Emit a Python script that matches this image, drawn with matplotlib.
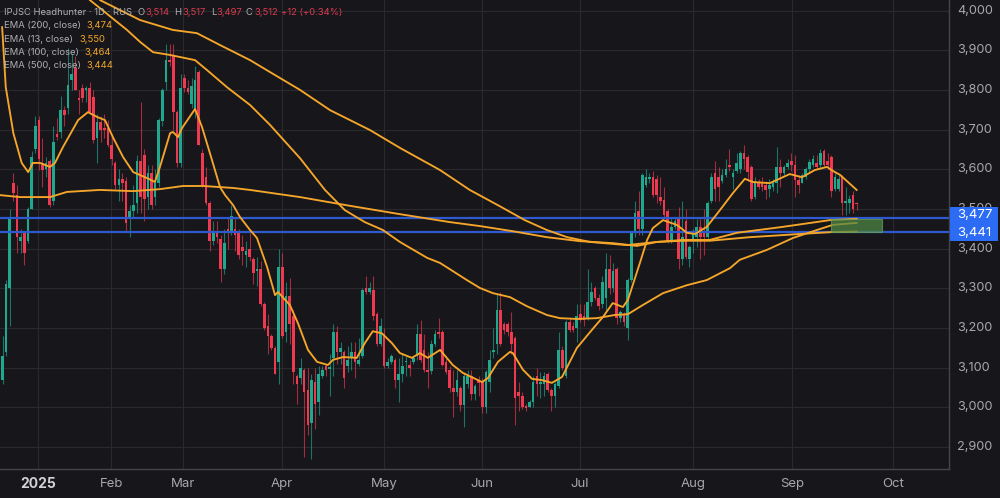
import numpy as np
import matplotlib
matplotlib.use("Agg")
import matplotlib.pyplot as plt
from matplotlib.patches import Rectangle

plt.rcParams['font.family'] = ['Inter', 'DejaVu Sans']

opens = [3480,3070,3140,3300,3565,3535,3420,3440,3420,3500,3650,3725,3615,3600,3620,3520,3690,3695,3750,3755,
 3825,3855,3780,3805,3800,3805,3782,3680,3720,3705,3705,3660,3615,3560,3575,3570,3480,3495,3515,3620,
 3635,3530,3590,3530,3565,3722,3820,3875,3885,3745,3615,3830,3805,3765,3750,3845,3640,3580,3515,3420,
 3445,3425,3350,3450,3440,3450,3445,3405,3385,3400,3375,3345,3350,3260,3205,3180,3150,3115,3355,3190,
 3280,3230,3080,3075,3095,3045,2960,3065,3015,3080,3105,3098,3125,3190,3140,3140,3105,3125,3140,3110,
 3130,3300,3290,3295,3235,3160,3185,3105,3115,3120,3070,3085,3115,3108,3115,3130,3185,3145,3095,3092,
 3160,3190,3190,3115,3095,3050,3040,3050,3005,3060,3080,3035,3070,3065,3000,3065,3140,3160,3245,3210,
 3210,3190,3175,3040,3030,3003,3002,3015,3080,3060,3060,3085,3045,3030,3055,3145,3080,3215,3205,3200,
 3235,3230,3225,3265,3300,3275,3260,3275,3350,3300,3350,3225,3235,3200,3320,3440,3495,3450,3560,3575,
 3580,3575,3530,3522,3495,3420,3455,3475,3375,3470,3375,3420,3430,3455,3445,3430,3520,3590,3580,3570,
 3585,3612,3580,3595,3600,3640,3630,3605,3530,3565,3565,3560,3550,3555,3565,3605,3590,3605,3620,3610,
 3572,3565,3580,3600,3612,3615,3610,3645,3620,3630,3550,3550,3580,3515,3515,3535,3514]
highs = [3500,3180,3320,3500,3590,3560,3450,3445,3505,3645,3735,3735,3680,3630,3625,3710,3730,3785,3760,3905,
 3890,3885,3800,3815,3810,3820,3800,3740,3735,3740,3725,3690,3620,3600,3590,3580,3510,3560,3635,3770,
 3650,3610,3610,3600,3730,3805,3915,3915,3915,3750,3840,3840,3825,3830,3860,3850,3650,3605,3520,3470,
 3470,3435,3450,3480,3510,3480,3450,3435,3420,3440,3380,3380,3370,3265,3235,3185,3155,3400,3390,3315,
 3325,3245,3085,3125,3100,3100,3085,3100,3105,3105,3110,3135,3210,3205,3165,3145,3155,3165,3165,3175,
 3300,3330,3315,3330,3240,3225,3200,3125,3135,3125,3125,3135,3130,3120,3130,3210,3220,3185,3140,3170,
 3195,3225,3195,3125,3105,3095,3095,3055,3090,3095,3095,3060,3080,3075,3095,3145,3200,3285,3290,3215,
 3215,3240,3180,3065,3040,3010,3020,3080,3100,3090,3090,3090,3050,3065,3190,3155,3220,3225,3215,3260,
 3260,3260,3350,3315,3305,3285,3330,3390,3385,3365,3355,3245,3240,3325,3445,3520,3545,3590,3600,3590,
 3595,3585,3580,3555,3500,3480,3480,3505,3520,3500,3410,3450,3475,3475,3500,3520,3590,3620,3605,3600,
 3625,3650,3600,3640,3645,3660,3635,3610,3580,3575,3580,3570,3575,3575,3655,3625,3610,3625,3640,3635,
 3585,3590,3605,3625,3635,3635,3650,3652,3640,3635,3590,3585,3585,3555,3535,3545,3517]
lows = [3060,3060,3130,3205,3520,3390,3390,3360,3415,3500,3640,3597,3555,3580,3505,3510,3675,3680,3710,3740,
 3800,3800,3740,3770,3770,3740,3665,3615,3670,3680,3655,3610,3550,3520,3520,3445,3430,3480,3490,3490,
 3470,3500,3500,3510,3555,3710,3800,3860,3700,3605,3605,3795,3790,3755,3730,3660,3555,3510,3395,3410,
 3415,3315,3335,3400,3435,3395,3375,3360,3355,3370,3310,3305,3255,3195,3135,3145,3085,3060,3175,3165,
 3160,3060,3010,3060,2875,2930,2870,2945,2980,3075,3080,3030,3080,3110,3110,3050,3090,3095,3075,3105,
 3125,3285,3285,3220,3155,3155,3100,3100,3110,3050,3015,3065,3080,3080,3110,3120,3115,3090,3050,3085,
 3155,3175,3105,3085,3040,2975,3030,2990,2950,3050,3020,3020,3030,2985,2985,3040,3125,3135,3155,3185,
 3180,3135,2955,2990,2995,2990,3000,3000,3030,3025,3030,3040,2990,3000,3050,3095,3075,3190,3190,3165,
 3215,3205,3220,3255,3270,3245,3250,3240,3285,3290,3210,3215,3205,3170,3315,3430,3435,3435,3555,3565,
 3530,3515,3510,3480,3415,3415,3450,3350,3360,3375,3355,3390,3405,3375,3385,3425,3515,3520,3520,3565,
 3580,3595,3550,3590,3590,3600,3570,3520,3525,3550,3545,3525,3530,3545,3540,3555,3585,3600,3595,3530,
 3540,3565,3575,3590,3605,3600,3600,3605,3600,3530,3545,3545,3485,3485,3490,3490,3497]
closes = [3070,3130,3310,3480,3540,3430,3430,3390,3500,3632,3708,3625,3597,3615,3510,3670,3682,3750,3738,3812,
 3840,3800,3775,3780,3805,3745,3675,3720,3700,3700,3660,3625,3560,3575,3565,3465,3495,3510,3620,3530,
 3525,3590,3510,3565,3725,3800,3875,3870,3745,3615,3805,3805,3795,3810,3825,3660,3560,3515,3420,3440,
 3430,3350,3415,3445,3482,3435,3385,3395,3395,3380,3340,3350,3260,3200,3180,3150,3085,3355,3180,3280,
 3210,3090,3060,3100,3040,2955,3070,3010,3085,3095,3095,3102,3190,3140,3150,3075,3120,3140,3115,3120,
 3295,3290,3300,3230,3160,3205,3105,3115,3130,3070,3085,3105,3118,3100,3125,3185,3120,3095,3090,3160,
 3185,3185,3108,3090,3050,3040,3070,3005,3080,3080,3035,3055,3062,3000,3090,3120,3145,3245,3160,3195,
 3190,3160,3025,3030,3000,2998,3015,3065,3060,3062,3080,3045,3030,3060,3145,3100,3215,3195,3195,3230,
 3220,3220,3265,3290,3275,3255,3315,3350,3300,3345,3225,3240,3215,3320,3440,3490,3450,3585,3580,3580,
 3535,3535,3520,3485,3420,3455,3470,3375,3430,3380,3405,3440,3455,3430,3430,3515,3580,3550,3555,3585,
 3600,3605,3590,3615,3640,3625,3592,3525,3565,3555,3555,3548,3560,3565,3605,3590,3605,3615,3610,3572,
 3560,3585,3600,3618,3625,3605,3642,3610,3610,3545,3580,3575,3515,3520,3525,3500,3512]

ema13_x = [-0.1,0.9,3,5.3,7.1,8.4,10.4,13.1,14.5,16.7,20.9,23.6,26.1,28.3,30.5,33.3,36.1,39.9,42.1,43.5,46.3,47.1,48.5,49.6,53.2,55.1,57.3,60.1,61.5,63.7,65.6,68.4,70.3,73.1,75.3,76.1,79.4,81.6,84.4,86.9,89.9,91.3,94.1,97.9,100.1,102.3,104.8,107.6,109.8,113.1,115.3,117.5,120.9,124.4,127.2,132.5,134.1,136.9,140.2,141,143.8,146.3,149,151.8,154.6,158.7,162.8,165.9,168.6,171.4,172.8,176.1,178.1,179.7,182.5,186.3,189.1,191.3,194.6,198.2,201.8,205.1,207.3,212,217.5,220.9,224.4,227.8,229.4,231.4,236]
ema13_y = [3958,3807,3691,3616,3593,3616,3616,3606,3616,3656,3724,3744,3732,3724,3681,3631,3593,3578,3568,3606,3691,3694,3681,3704,3752,3707,3641,3555,3535,3510,3480,3447,3427,3354,3283,3291,3258,3213,3145,3115,3107,3120,3127,3125,3162,3192,3187,3162,3137,3125,3137,3125,3145,3107,3087,3064,3074,3115,3140,3137,3095,3072,3069,3062,3077,3150,3195,3228,3263,3253,3271,3364,3422,3452,3472,3460,3440,3437,3455,3497,3540,3576,3568,3565,3588,3580,3598,3606,3596,3586,3548]
ema100_x = [24.2,34.4,38,41.6,46.3,53.2,56.5,62,68.4,73.9,82.2,89.1,94.6,100.1,105.1,109.8,117.3,120.9,128.3,131.9,135.5,140.2,144.9,150.4,154,158.7,164.2,169.2,172.8,176.9,182.5,189.1,194.6,201,203.7,211.2,218.4,225,229.4,236]
ema100_y = [4026,3951,3921,3895,3888,3875,3850,3807,3762,3712,3628,3548,3497,3467,3447,3417,3377,3364,3321,3301,3288,3278,3255,3233,3225,3223,3225,3233,3235,3258,3288,3308,3321,3351,3372,3397,3427,3447,3460,3465]
ema200_x = [27,38,47.1,53.7,60.1,68.4,73.9,82.2,90.5,101.5,109.8,120.9,129.1,137.4,144.3,150.4,156,162.3,172.5,180.8,188,195.4,202.9,215.6,228.6,236]
ema200_y = [4026,3976,3951,3943,3913,3875,3845,3800,3749,3699,3654,3598,3548,3507,3472,3447,3429,3417,3409,3417,3422,3422,3440,3455,3472,3475]
ema500_x = [-0.7,4.8,13.1,17.8,26.9,36.1,43.5,49.9,55.4,63.7,68.4,82.2,96,109.8,123.6,131.9,141,150.4,159.5,168.6,175.3,180.8,188,195.4,206.5,220.3,229.4,236]
ema500_y = [3535,3530,3530,3543,3548,3545,3550,3558,3558,3553,3548,3530,3508,3487,3467,3457,3444,3429,3419,3414,3407,3417,3420,3420,3429,3437,3442,3443]

price_ticks = [4000,3900,3800,3700,3600,3500,3400,3300,3200,3100,3000,2900]
month_pos = [9.8,29.9,49.7,76.9,105,131.9,158.9,190,217.2,245]
month_labels = ['2025','Feb','Mar','Apr','May','Jun','Jul','Aug','Sep','Oct']
levels = [3477,3441]
zone_x = [227.8,242.1]
zone_y = [3441,3475]
legend_rows = ['EMA (200, close)','EMA (13, close)','EMA (100, close)','EMA (500, close)']
legend_vals = ['3,474','3,550','3,464','3,444']

W, H = 1000, 498
BG = '#16161b'; UP = '#20a88e'; DOWN = '#ee3a50'; EMA = '#f5a62a'; BLUE = '#2f59cf'
GRID = '#29292e'; TXT = '#a8a8ac'

fig = plt.figure(figsize=(W/100, H/100), dpi=100, facecolor=BG)
ax = fig.add_axes([0, 29/H, 949/W, 469/H], facecolor=BG)
ax.set_xlim(-0.688, 260.4)
ax.set_ylim(2845, 4026.5)

o, h, l, c = map(np.array, (opens, highs, lows, closes))
idx = np.arange(len(o)) - 1
col = np.where(c >= o, UP, DOWN)
scale = 235 / 236   # EMA positions were read against a slightly narrower bar pitch

ax.vlines(idx, l, h, colors=col, lw=0.8, alpha=0.65, zorder=2)
ax.bar(idx, np.maximum(np.abs(c - o), 3), bottom=np.minimum(o, c), width=0.72, color=col, lw=0, zorder=3)

ax.set_yticks(price_ticks)
ax.set_xticks(month_pos)
ax.grid(True, color=GRID, lw=0.8)
ax.set_axisbelow(True)
ax.tick_params(length=0, labelleft=False, labelbottom=False)
for s in ('top', 'left'):
    ax.spines[s].set_visible(False)
for s in ('right', 'bottom'):
    ax.spines[s].set_color('#45454a'); ax.spines[s].set_linewidth(1)

for y in levels:
    ax.axhline(y, color=BLUE, lw=1.6, zorder=4)
for xs, ys in ((ema13_x, ema13_y), (ema100_x, ema100_y), (ema200_x, ema200_y), (ema500_x, ema500_y)):
    ax.plot(np.array(xs) * scale, ys, color=EMA, lw=1.35, zorder=5, solid_joinstyle='round')
ax.add_patch(Rectangle((zone_x[0], zone_y[0]), zone_x[1]-zone_x[0], zone_y[1]-zone_y[0],
                       facecolor='#4f8a45', alpha=0.72, edgecolor='#6aa05c', lw=0.8, zorder=6))

def px(x, y, s, **kw):
    kw.setdefault('va', 'center'); kw.setdefault('ha', 'left')
    return fig.text(x/W, 1 - y/H, s, **kw)

ymap = lambda p: (4026.5 - p) / (4026.5 - 2845) * 469
for p in price_ticks:
    px(957.5, ymap(p), f'{p:,}', color=TXT, fontsize=9.2, zorder=3)
for m, lab in zip(month_pos, month_labels):
    x = 2.5 + 3.635 * m
    px(x, 483.5, lab, color='#d2d2d5' if lab == '2025' else TXT, fontsize=9.5 if lab != '2025' else 10,
       fontweight='bold' if lab == '2025' else 'normal', ha='center')

fig.add_artist(Rectangle((950/W, 1-241/H), 48/W, 34/H, transform=fig.transFigure,
                         facecolor='#2c6cf5', edgecolor='none', zorder=5))
px(957.5, 214.5, '3,477', color='white', fontsize=9.5, zorder=6)
px(957.5, 232.5, '3,441', color='white', fontsize=9.5, zorder=6)

LEG = '#b0b0b4'; RED = '#dc3a4e'; FS = 6.8
px(4, 12.5, 'IPJSC Headhunter · 1D · RUS', color=LEG, fontsize=FS)
for xt, lab, val in ((137, 'O', '3,514'), (174, 'H', '3,517'), (211, 'L', '3,497'), (246, 'C', '3,512')):
    px(xt, 12.5, lab, color=LEG, fontsize=FS)
    px(xt + (8 if lab != 'L' else 5.5), 12.5, val, color=RED, fontsize=FS)
px(281, 12.5, '+12 (+0.34%)', color=RED, fontsize=FS)
vx = [86, 79, 84.5, 86]
for i, (r, v) in enumerate(zip(legend_rows, legend_vals)):
    yy = 26 + i * 13.3
    px(4, yy, r, color=LEG, fontsize=FS)
    px(vx[i], yy, v, color=EMA, fontsize=FS)

fig.savefig('out.png', dpi=100, facecolor=BG)
